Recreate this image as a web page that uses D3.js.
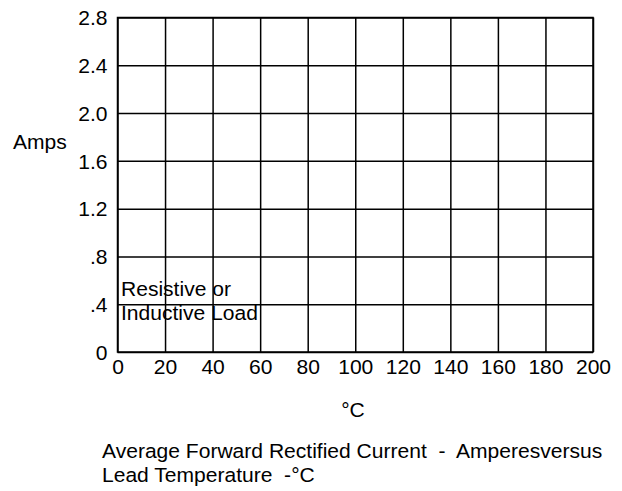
<!DOCTYPE html>
<html>
<head>
<meta charset="utf-8">
<script src="https://cdn.jsdelivr.net/npm/d3@7"></script>
<style>
  body { margin: 0; background: #fff; }
  text { font-family: "Liberation Sans", Arial, sans-serif; fill: #000; }
</style>
</head>
<body>
<script>
// tick values and labels
const xTicks = [0, 20, 40, 60, 80, 100, 120, 140, 160, 180, 200];
const yTicks = [0, 0.4, 0.8, 1.2, 1.6, 2.0, 2.4, 2.8];
const yLabels = ["0", ".4", ".8", "1.2", "1.6", "2.0", "2.4", "2.8"];
const noteLines = ["Resistive or", "Inductive Load"];
const titleLines = ["Average Forward Rectified Current  -  Amperesversus", "Lead Temperature  -\u00B0C"];

const W = 622, H = 491;
const margin = {left: 117.5, right: 29, top: 17.5, bottom: 139};
const w = W - margin.left - margin.right;
const h = H - margin.top - margin.bottom;
const fs = 19.5;
const wide = 1.08; // the original lettering is a bit wider than Arial

// stretch text horizontally around its anchor point
function stretch(sel) {
    sel.each(function() {
        const t = d3.select(this);
        const x0 = +t.attr("x") || 0;
        t.attr("transform", `translate(${x0},0) scale(${wide},1) translate(${-x0},0)`);
    });
}

const svg = d3.select("body").append("svg")
    .attr("width", W)
    .attr("height", H);

const g = svg.append("g")
    .attr("transform", `translate(${margin.left},${margin.top})`);

const x = d3.scaleLinear().domain([0, 200]).range([0, w]);
const y = d3.scaleLinear().domain([0, 2.8]).range([h, 0]);

// vertical grid + x labels
const xAxis = g.append("g")
    .attr("transform", `translate(0,${h})`)
    .call(d3.axisBottom(x).tickValues(xTicks).tickSizeInner(-h).tickSizeOuter(0).tickPadding(8));
xAxis.select(".domain").remove();
xAxis.selectAll("line").attr("stroke", "#000").attr("stroke-width", 1.5);
xAxis.selectAll("text").attr("font-size", fs).attr("dy", "0.72em").call(stretch);

// horizontal grid + y labels
const yAxis = g.append("g")
    .call(d3.axisLeft(y).tickValues(yTicks).tickFormat((d, i) => yLabels[i])
        .tickSizeInner(-w).tickSizeOuter(0).tickPadding(10));
yAxis.select(".domain").remove();
yAxis.selectAll("line").attr("stroke", "#000").attr("stroke-width", 1.5);
yAxis.selectAll("text").attr("font-size", fs).attr("dy", "0.37em").call(stretch);

// frame
g.append("rect")
    .attr("width", w)
    .attr("height", h)
    .attr("fill", "none")
    .attr("stroke", "#000")
    .attr("stroke-width", 1.5);

// y title
svg.append("text")
    .attr("x", 13)
    .attr("y", 149)
    .attr("font-size", fs)
    .text("Amps")
    .call(stretch);

// note inside plot
g.selectAll(".note")
    .data(noteLines)
    .join("text")
    .attr("class", "note")
    .attr("x", x(0) + 3.5)
    .attr("y", (d, i) => y(0.4) - 8 + i * 24)
    .attr("font-size", fs)
    .text(d => d)
    .call(stretch);

// x unit
svg.append("text")
    .attr("x", 353)
    .attr("y", 417)
    .attr("text-anchor", "middle")
    .attr("font-size", fs)
    .text("\u00B0C")
    .call(stretch);

// caption
svg.selectAll(".caption")
    .data(titleLines)
    .join("text")
    .attr("class", "caption")
    .attr("x", 102)
    .attr("y", (d, i) => 458 + i * 24)
    .attr("font-size", fs)
    .attr("xml:space", "preserve")
    .style("white-space", "pre")
    .text(d => d)
    .call(stretch);
</script>
</body>
</html>
